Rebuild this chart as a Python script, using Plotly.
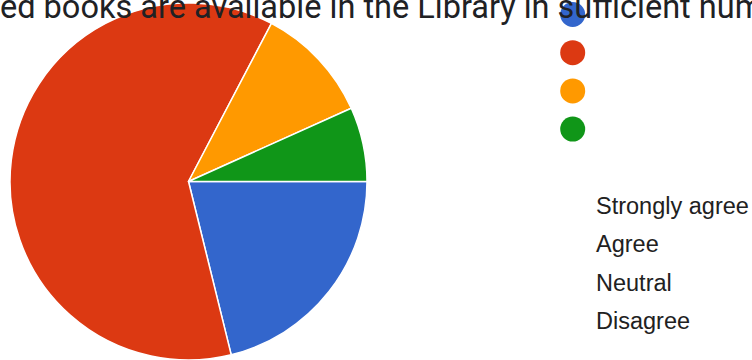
import plotly.graph_objects as go

title_text = "ed books are available in the Library in sufficient num"
categories = ["Strongly agree", "Agree", "Neutral", "Disagree"]
counts = [22, 64, 11, 7]
colors = ["#3366cc", "#dc3912", "#ff9900", "#109618"]

W, H = 752, 360

fig = go.Figure()
fig.add_trace(go.Pie(
    labels=categories,
    values=counts,
    sort=False,
    direction="clockwise",
    rotation=90,
    textinfo="none",
    hoverinfo="label+percent",
    marker=dict(colors=colors, line=dict(color="white", width=1.5)),
    domain=dict(x=[0, 377 / W], y=[0, 1 - 3 / H]),
    showlegend=False,
))

def px(x):
    return x / W

def py(y):
    return 1 - y / H

shapes = []
annotations = [dict(
    text=title_text, x=px(-2), y=py(-14), xref="paper", yref="paper",
    xanchor="left", yanchor="top", showarrow=False,
    font=dict(family="Roboto, Arial", size=32.5, color="#202124"),
)]

r = 12.5
for i, (lab, col) in enumerate(zip(categories, colors)):
    cy = 14.5 + 38.2 * i
    cx = 572.7
    shapes.append(dict(type="circle", xref="paper", yref="paper",
                       x0=px(cx - r), x1=px(cx + r), y0=py(cy + r), y1=py(cy - r),
                       fillcolor=col, line=dict(width=0), layer="above"))
    ly = 206 + 38.3 * i
    annotations.append(dict(
        text=lab, x=px(593.5), y=py(ly), xref="paper", yref="paper",
        xanchor="left", yanchor="middle", showarrow=False,
        font=dict(family="Liberation Sans, Arial", size=23.5, color="#212121"),
    ))

fig.update_layout(
    width=W, height=H,
    margin=dict(l=0, r=0, t=0, b=0),
    paper_bgcolor="white", plot_bgcolor="white",
    shapes=shapes, annotations=annotations,
)

fig.write_html(
    "out.html",
    config={"displayModeBar": False},
    post_script="document.body.style.margin='0';document.body.style.overflow='hidden';",
)
